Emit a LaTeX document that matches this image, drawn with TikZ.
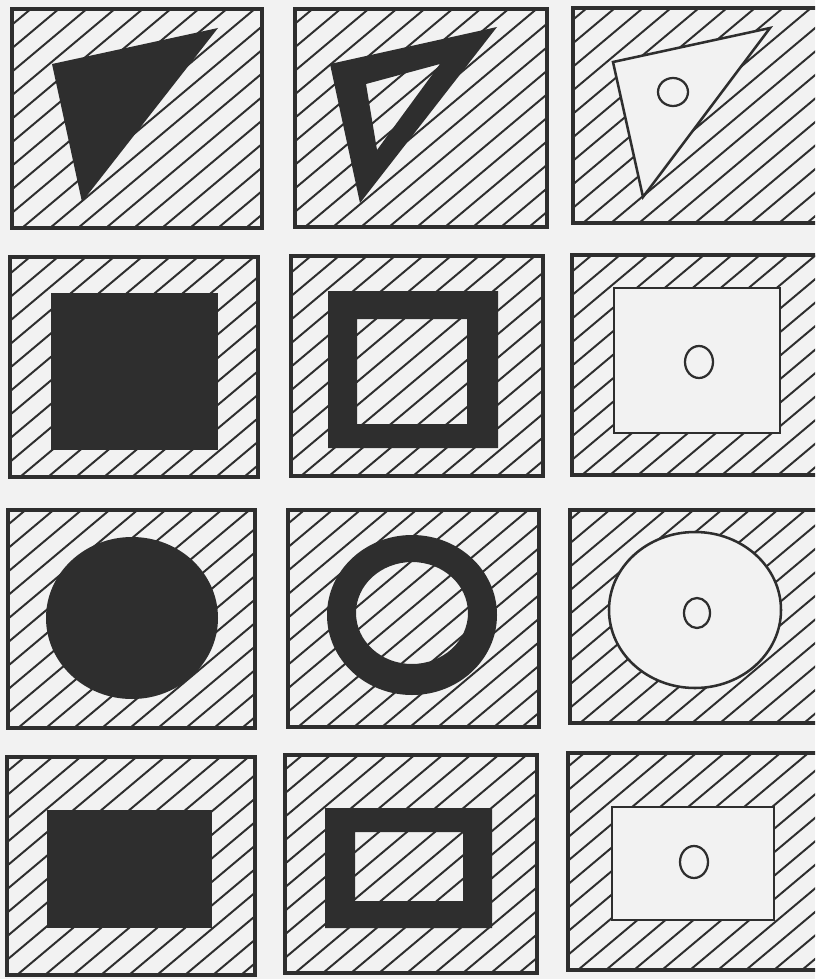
\documentclass[tikz,border=0pt]{standalone}
\usepackage{tikz}
\definecolor{paper}{gray}{0.95}
\definecolor{ink}{gray}{0.18}
% hatched frame: left, top, right, bottom (pixels)
\newcommand{\hatchbox}[4]{%
  \begin{scope}
    \clip (#1,#2) rectangle (#3,#4);
    \foreach \s in {0,28,...,560}
      \draw[hatch] ({#1-270+\s},#4) -- ++(300,-252);
  \end{scope}
  \draw[frame] (#1,#2) rectangle (#3,#4);}

\begin{document}
\begin{tikzpicture}[
  x=0.025cm, y=-0.025cm,
  frame/.style={draw=ink, line width=2.4pt},
  hatch/.style={draw=ink, line width=1.4pt},
  solid/.style={fill=ink},
  blank/.style={draw=ink, fill=paper, line width=1.8pt},
  hole/.style={draw=ink, line width=1.6pt}
]
  \clip (0,0) rectangle (815,979);
  \fill[paper] (0,0) rectangle (815,979);

  % triangles
  \hatchbox{12}{9}{262}{228}
  \hatchbox{295}{9}{547}{227}
  \hatchbox{573}{8}{840}{223}
  \fill[solid] (52,64) -- (218,28) -- (82,202) -- cycle;
  \fill[solid, even odd rule] (330,64) -- (497,27) -- (360,203) -- cycle
    (366,84) -- (440,64) -- (377,150) -- cycle;
  \draw[blank] (613,62) -- (770,28) -- (643,197) -- cycle;
  \draw[hole] (673,92) ellipse (15 and 14);

  % squares
  \hatchbox{10}{257}{258}{477}
  \hatchbox{291}{256}{543}{476}
  \hatchbox{572}{255}{840}{475}
  \fill[solid] (51,293) rectangle (218,450);
  \fill[solid, even odd rule] (328,291) rectangle (498,448)
    (357,319) rectangle (467,424);
  \draw[blank] (614,288) rectangle (780,433);
  \draw[hole] (699,362) ellipse (14 and 16);

  % circles
  \hatchbox{8}{510}{255}{728}
  \hatchbox{288}{510}{539}{727}
  \hatchbox{570}{510}{840}{723}
  \fill[solid] (132,618) ellipse (86 and 81);
  \fill[solid, even odd rule] (412,615) ellipse (85 and 80)
    (412,613) ellipse (56 and 51);
  \draw[blank] (695,610) ellipse (86 and 78);
  \draw[hole] (697,613) ellipse (13 and 15);

  % rectangles
  \hatchbox{7}{757}{255}{975}
  \hatchbox{285}{755}{537}{973}
  \hatchbox{568}{753}{840}{970}
  \fill[solid] (47,810) rectangle (212,928);
  \fill[solid, even odd rule] (325,808) rectangle (492,928)
    (355,832) rectangle (463,901);
  \draw[blank] (612,807) rectangle (774,920);
  \draw[hole] (694,862) ellipse (14 and 16);
\end{tikzpicture}
\end{document}
